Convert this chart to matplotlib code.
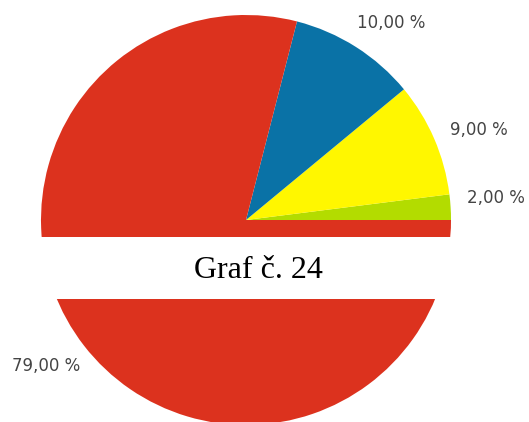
#!/usr/bin/env python3
"""Pie chart 'Graf č. 24' with the caption band laid across it."""
import matplotlib
matplotlib.use('Agg')
import matplotlib.pyplot as plt

# shares in percent, counter-clockwise from 3 o'clock
categories = ['d', 'c', 'b', 'a']
values = [2.0, 9.0, 10.0, 79.0]
colors = ['#b3dc00', '#fff700', '#0a72a6', '#dc321e']

caption = 'Graf č. 24'

# label anchor points (pixel coords, origin bottom-left)
label_xy = [(496, 224), (479, 292), (391, 399), (46, 56)]

W, H = 529, 422
fig = plt.figure(figsize=(W / 100, H / 100), dpi=100)
ax = fig.add_axes([0, 0, 1, 1])

ax.pie(values, colors=colors, startangle=0, counterclock=True,
       center=(246, 202), radius=205,
       wedgeprops=dict(linewidth=0, antialiased=True))
ax.set_xlim(0, W)
ax.set_ylim(0, H)
ax.set_aspect('equal')
ax.axis('off')

for v, (x, y) in zip(values, label_xy):
    txt = f'{v:.2f}'.replace('.', ',') + ' %'
    ax.text(x, y, txt, ha='center', va='center', fontsize=12,
            color='#444444', family='DejaVu Sans')

# white caption band across the pie
ax.axhspan(123, 185, color='white', zorder=5, linewidth=0)
ax.text(258, 144, caption, ha='center', va='baseline', fontsize=23,
        family='Liberation Serif', color='black', zorder=6)

fig.savefig('out.png', dpi=100)
